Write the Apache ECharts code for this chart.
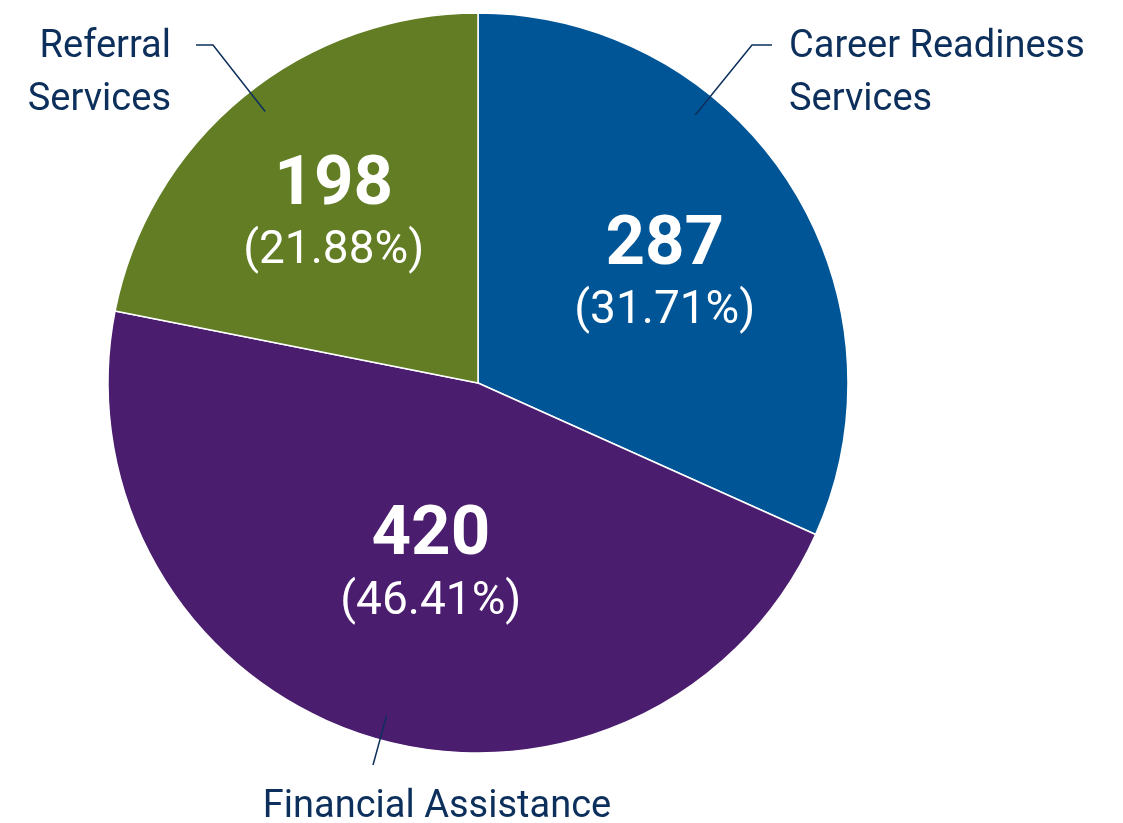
<!DOCTYPE html>
<html>
<head>
<meta charset="utf-8">
<script src="https://cdn.jsdelivr.net/npm/echarts@6/dist/echarts.min.js"></script>
<style>
html, body { margin: 0; padding: 0; background: #fff; }
#chart { width: 1123px; height: 823px; }
</style>
</head>
<body>
<div id="chart"></div>
<script>
const categories = ['Career Readiness\nServices', 'Financial Assistance', 'Referral\nServices'];
const values = [287, 420, 198];
const colors = ['#005596', '#4a1d6f', '#627d23'];

const CX = 478, CY = 383, R = 370;
const TEXT = '#0c2f5b';
const FONT = 'Roboto';

// name labels sit outside; elbow / end of leader line are offsets from the label spot
const namePos = [
  { x: 789, y: 21, align: 'left', elbow: [-37, 24], end: [-17, 24] },
  { x: 437, y: 781, align: 'center', elbow: [-64, -16], end: [-64, -16] },
  { x: 171, y: 21, align: 'right', elbow: [42, 24], end: [25, 24] }
];
// nudge the value labels from the mid radius to where they sit in the picture
const valueShift = [[29, -6], [10, 3], [-25, -23]];
const LINE_R = 345;

// leader lines point to the pie centre, like the original
function leader(i) {
  const p = namePos[i];
  const ex = p.x + p.elbow[0], ey = p.y + p.elbow[1];
  const dx = ex - CX, dy = ey - CY;
  const d = Math.sqrt(dx * dx + dy * dy);
  return [[CX + dx / d * LINE_R, CY + dy / d * LINE_R], [ex, ey], [p.x + p.end[0], p.y + p.end[1]]];
}

const chart = echarts.init(document.getElementById('chart'));
chart.setOption({
  animation: false,
  backgroundColor: '#fff',
  series: [
    {
      type: 'pie',
      z: 2,
      center: [CX, CY],
      radius: R,
      startAngle: 90,
      clockwise: true,
      data: categories.map((c, i) => ({ name: c, value: values[i], itemStyle: { color: colors[i] } })),
      itemStyle: { borderColor: '#fff', borderWidth: 1.5 },
      label: {
        show: true,
        position: 'inside',
        formatter: '{v|{c}}\n{p|({d}%)}',
        rich: {
          v: { fontFamily: FONT, fontSize: 69, fontWeight: 'bold', color: '#fff', lineHeight: 74 },
          p: { fontFamily: FONT, fontSize: 46, color: '#fff', lineHeight: 56 }
        }
      },
      labelLine: { show: false },
      labelLayout: (params) => ({ dx: valueShift[params.dataIndex][0], dy: valueShift[params.dataIndex][1] }),
      emphasis: { disabled: true }
    },
    {
      type: 'pie',
      z: 5,
      center: [CX, CY],
      radius: R,
      startAngle: 90,
      clockwise: true,
      silent: true,
      data: categories.map((c, i) => ({ name: c, value: values[i] })),
      itemStyle: { color: 'rgba(0,0,0,0)', borderWidth: 0 },
      label: {
        show: true,
        position: 'outside',
        formatter: '{b}',
        color: TEXT,
        fontFamily: FONT,
        fontSize: 38,
        lineHeight: 53,
        overflow: 'none'
      },
      labelLine: { show: true, length: 10, length2: 10, lineStyle: { color: TEXT, width: 1.5 } },
      labelLayout: (params) => {
        const p = namePos[params.dataIndex];
        return { x: p.x, y: p.y, align: p.align, verticalAlign: 'top', labelLinePoints: leader(params.dataIndex) };
      },
      emphasis: { disabled: true }
    }
  ]
});
</script>
</body>
</html>
